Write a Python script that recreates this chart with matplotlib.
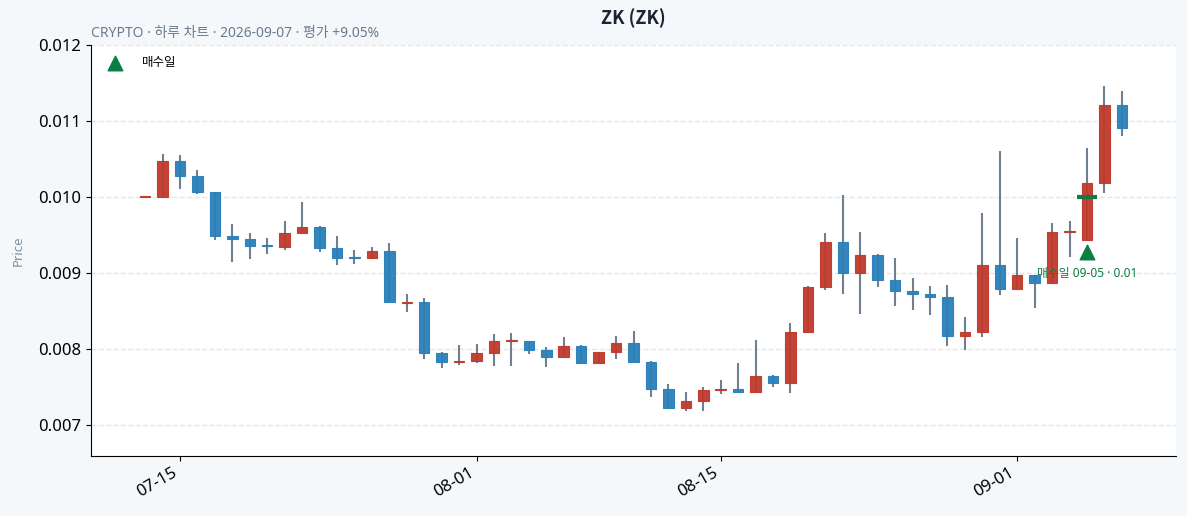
import numpy as np
import pandas as pd
import matplotlib
matplotlib.use("Agg")
import matplotlib.pyplot as plt
import matplotlib.dates as mdates

plt.rcParams["font.family"] = ["Noto Sans", "Noto Sans CJK KR", "DejaVu Sans"]

DATES = pd.date_range("2026-07-13", "2026-09-07", freq="D")

OPEN = [0.009998, 0.01000, 0.01048, 0.01028, 0.01006, 0.00949, 0.00945, 0.00936, 0.00934, 0.00952,
        0.00961, 0.00933, 0.00921, 0.00920, 0.00929, 0.00861, 0.00862, 0.00795, 0.00783, 0.00784,
        0.00795, 0.00810, 0.00810, 0.00798, 0.00789, 0.00804, 0.00782, 0.00796, 0.00808, 0.00783,
        0.00747, 0.00722, 0.00731, 0.00746, 0.00747, 0.00743, 0.00764, 0.00755, 0.00822, 0.00882,
        0.00941, 0.00900, 0.00924, 0.00891, 0.00876, 0.00872, 0.00869, 0.00817, 0.00822, 0.00911,
        0.00879, 0.00898, 0.00887, 0.00954, 0.00943, 0.01019, 0.01121]
HIGH = [0.01000, 0.01057, 0.01055, 0.01035, 0.01007, 0.00965, 0.00952, 0.00946, 0.00969, 0.00993,
        0.00962, 0.00949, 0.00930, 0.00934, 0.00940, 0.00872, 0.00867, 0.00796, 0.00805, 0.00807,
        0.00820, 0.00821, 0.00810, 0.00803, 0.00816, 0.00805, 0.00796, 0.00817, 0.00824, 0.00784,
        0.00754, 0.00743, 0.00750, 0.00759, 0.00781, 0.00812, 0.00766, 0.00834, 0.00883, 0.00952,
        0.01003, 0.00954, 0.00925, 0.00920, 0.00894, 0.00883, 0.00884, 0.00842, 0.00979, 0.01060,
        0.00946, 0.00898, 0.00966, 0.00969, 0.01065, 0.01146, 0.01139]
LOW = [0.00999, 0.01000, 0.01011, 0.01004, 0.00943, 0.00915, 0.00919, 0.00925, 0.00930, 0.00952,
       0.00928, 0.00911, 0.00912, 0.00920, 0.00862, 0.00849, 0.00787, 0.00775, 0.00779, 0.00781,
       0.00777, 0.00777, 0.00793, 0.00776, 0.00789, 0.00782, 0.00781, 0.00787, 0.00783, 0.00737,
       0.00722, 0.00718, 0.00719, 0.00741, 0.00743, 0.00743, 0.00750, 0.00742, 0.00822, 0.00877,
       0.00872, 0.00846, 0.00882, 0.00857, 0.00851, 0.00845, 0.00804, 0.00799, 0.00816, 0.00871,
       0.00878, 0.00854, 0.00887, 0.00921, 0.00943, 0.01005, 0.01080]
CLOSE = [0.01000, 0.01048, 0.01028, 0.01006, 0.00949, 0.00945, 0.00935, 0.00935, 0.00953, 0.00961,
         0.00933, 0.00920, 0.00920, 0.00929, 0.00862, 0.00862, 0.00795, 0.00783, 0.00784, 0.00795,
         0.00810, 0.00811, 0.00798, 0.00789, 0.00804, 0.00782, 0.00796, 0.00808, 0.00783, 0.00747,
         0.00722, 0.00731, 0.00746, 0.00747, 0.00743, 0.00764, 0.00755, 0.00822, 0.00882, 0.00941,
         0.00900, 0.00924, 0.00891, 0.00876, 0.00872, 0.00869, 0.00817, 0.00822, 0.00911, 0.00879,
         0.00898, 0.00887, 0.00954, 0.00955, 0.01019, 0.01121, 0.010905]

BUY_DATE = pd.Timestamp("2026-09-05")
BUY_PRICE = 0.010

UP = "#c0392b"
DOWN = "#2980b9"
WICK = "#708090"
GREEN = "#0b7d45"
BG = "#f5f8fb"

fig = plt.figure(figsize=(11.87, 5.16), dpi=100)
fig.patch.set_facecolor(BG)
ax = fig.add_axes([0.0767, 0.1172, 0.914, 0.7956])
ax.set_facecolor("white")

x = mdates.date2num(DATES)
w = 0.6
for xi, o, h, l, c in zip(x, OPEN, HIGH, LOW, CLOSE):
    col = UP if c >= o else DOWN
    ax.vlines(xi, l, h, color=WICK, lw=1.5, zorder=2)
    body = max(abs(c - o), 0.000012)
    ax.bar(xi, body, bottom=min(o, c), width=w, color=col, edgecolor=col,
           lw=0.8, alpha=0.95, zorder=3)

# buy marker
bx = mdates.date2num(BUY_DATE)
bi = list(DATES).index(BUY_DATE)
ax.hlines(BUY_PRICE, bx - 0.55, bx + 0.55, color=GREEN, lw=3, zorder=4)
ax.scatter([bx], [LOW[bi] * 0.984], marker="^", s=110, color=GREEN, zorder=5,
           label="매수일")
ax.text(bx, LOW[bi] * 0.953, f"매수일 {BUY_DATE:%m-%d} · {BUY_PRICE:.2f}",
        ha="center", va="center", fontsize=8.5, color=GREEN, zorder=5)

ax.set_xlim(x[0] - 3.1, x[-1] + 3.1)
ax.set_ylim(0.006598, 0.012)
ax.set_yticks([0.007, 0.008, 0.009, 0.010, 0.011, 0.012])
ax.yaxis.set_major_formatter(matplotlib.ticker.FormatStrFormatter("%.3f"))
ax.xaxis.set_major_locator(mdates.DayLocator(bymonthday=[1, 15]))
ax.xaxis.set_major_formatter(mdates.DateFormatter("%m-%d"))
plt.setp(ax.get_xticklabels(), rotation=30, ha="right")
ax.tick_params(labelsize=12)

ax.grid(axis="y", ls="--", color="#e6e6e6", lw=1)
ax.set_axisbelow(True)
for sp in ("top", "right"):
    ax.spines[sp].set_visible(False)

ax.set_ylabel("Price", fontsize=9.5, color="#8090a0", labelpad=10)
ax.set_title("ZK (ZK)", fontsize=13, fontweight="bold", pad=15, color="#1c2333",
             family=["Noto Sans CJK KR", "DejaVu Sans"])
ax.text(0, 1.01, "CRYPTO · 하루 차트 · 2026-09-07 · 평가 +9.05%", transform=ax.transAxes,
        fontsize=10, color="#6b7b8c", ha="left", va="bottom")
ax.legend(loc="upper left", frameon=False, fontsize=9, handletextpad=1.2)

fig.savefig("out.png", dpi=100, facecolor=BG)
